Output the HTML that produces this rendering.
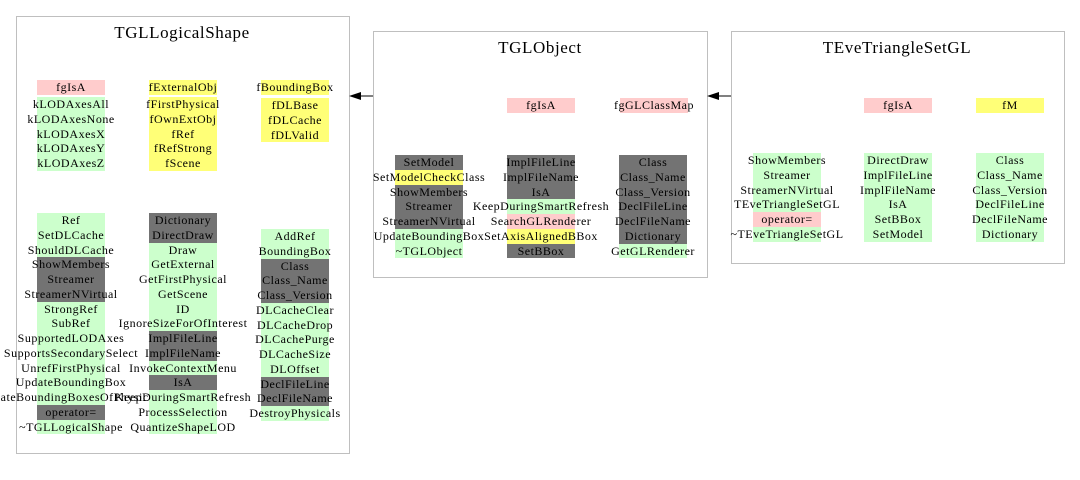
<!DOCTYPE html>
<html><head><meta charset="utf-8"><style>
body{margin:0;width:1080px;height:480px;background:#fff;position:relative;overflow:hidden;font-family:"Liberation Serif",serif;}
.frame{position:absolute;border:1px solid #bfbfbf;background:#fff;}
.title{position:absolute;font-size:17px;letter-spacing:0.6px;white-space:nowrap;transform:translateX(-50%);}
.col{position:absolute;width:68px;}
.r{height:14.75px;line-height:14.75px;font-size:12px;letter-spacing:0.5px;display:flex;justify-content:center;white-space:nowrap;color:#000;}
.g{background:#ccffcc}.d{background:#737373}.p{background:#ffcccc}.y{background:#ffff77}.w{background:transparent}
svg{position:absolute;left:0;top:0}
</style></head><body>
<div class="frame" style="left:16px;top:16px;width:332px;height:436px"></div>
<div class="frame" style="left:373px;top:31px;width:333px;height:245px"></div>
<div class="frame" style="left:731px;top:31px;width:332px;height:231px"></div>
<svg width="1080" height="480">
<line x1="373" y1="96" x2="360" y2="96" stroke="#000"/>
<polygon points="349,96 361,92 361,100" fill="#000"/>
<line x1="731" y1="96" x2="718" y2="96" stroke="#000"/>
<polygon points="707,96 719,92 719,100" fill="#000"/>
</svg>
<div class="title" style="left:182px;top:23px">TGLLogicalShape</div>
<div class="title" style="left:540px;top:38px">TGLObject</div>
<div class="title" style="left:897px;top:38px">TEveTriangleSetGL</div>

<div class="col" style="left:37px;top:80px"><div class="r p">fgIsA</div></div>
<div class="col" style="left:37px;top:97px"><div class="r g">kLODAxesAll</div><div class="r g">kLODAxesNone</div><div class="r g">kLODAxesX</div><div class="r g">kLODAxesY</div><div class="r g">kLODAxesZ</div></div>
<div class="col" style="left:149px;top:80px"><div class="r y">fExternalObj</div></div>
<div class="col" style="left:149px;top:97px"><div class="r y">fFirstPhysical</div><div class="r y">fOwnExtObj</div><div class="r y">fRef</div><div class="r y">fRefStrong</div><div class="r y">fScene</div></div>
<div class="col" style="left:261px;top:80px"><div class="r y">fBoundingBox</div></div>
<div class="col" style="left:261px;top:98px"><div class="r y">fDLBase</div><div class="r y">fDLCache</div><div class="r y">fDLValid</div></div>

<div class="col" style="left:37px;top:213px">
<div class="r g">Ref</div><div class="r g">SetDLCache</div><div class="r g">ShouldDLCache</div><div class="r d">ShowMembers</div><div class="r d">Streamer</div><div class="r d">StreamerNVirtual</div><div class="r g">StrongRef</div><div class="r g">SubRef</div><div class="r g">SupportedLODAxes</div><div class="r g">SupportsSecondarySelect</div><div class="r g">UnrefFirstPhysical</div><div class="r g">UpdateBoundingBox</div><div class="r g">UpdateBoundingBoxesOfPhysicals</div><div class="r d">operator=</div><div class="r g">~TGLLogicalShape</div></div>
<div class="col" style="left:149px;top:213px">
<div class="r d">Dictionary</div><div class="r d">DirectDraw</div><div class="r g">Draw</div><div class="r g">GetExternal</div><div class="r g">GetFirstPhysical</div><div class="r g">GetScene</div><div class="r g">ID</div><div class="r g">IgnoreSizeForOfInterest</div><div class="r d">ImplFileLine</div><div class="r d">ImplFileName</div><div class="r g">InvokeContextMenu</div><div class="r d">IsA</div><div class="r g">KeepDuringSmartRefresh</div><div class="r g">ProcessSelection</div><div class="r g">QuantizeShapeLOD</div></div>
<div class="col" style="left:261px;top:229px">
<div class="r g">AddRef</div><div class="r g">BoundingBox</div><div class="r d">Class</div><div class="r d">Class_Name</div><div class="r d">Class_Version</div><div class="r g">DLCacheClear</div><div class="r g">DLCacheDrop</div><div class="r g">DLCachePurge</div><div class="r g">DLCacheSize</div><div class="r g">DLOffset</div><div class="r d">DeclFileLine</div><div class="r d">DeclFileName</div><div class="r g">DestroyPhysicals</div></div>

<div class="col" style="left:507px;top:98px"><div class="r p">fgIsA</div></div>
<div class="col" style="left:620px;top:98px"><div class="r p">fgGLClassMap</div></div>
<div class="col" style="left:395px;top:155px">
<div class="r d">SetModel</div><div class="r y">SetModelCheckClass</div><div class="r d">ShowMembers</div><div class="r d">Streamer</div><div class="r d">StreamerNVirtual</div><div class="r g">UpdateBoundingBox</div><div class="r g">~TGLObject</div></div>
<div class="col" style="left:507px;top:155px">
<div class="r d">ImplFileLine</div><div class="r d">ImplFileName</div><div class="r d">IsA</div><div class="r g">KeepDuringSmartRefresh</div><div class="r p">SearchGLRenderer</div><div class="r y">SetAxisAlignedBBox</div><div class="r d">SetBBox</div></div>
<div class="col" style="left:619px;top:155px">
<div class="r d">Class</div><div class="r d">Class_Name</div><div class="r d">Class_Version</div><div class="r d">DeclFileLine</div><div class="r d">DeclFileName</div><div class="r d">Dictionary</div><div class="r g">GetGLRenderer</div></div>

<div class="col" style="left:864px;top:98px"><div class="r p">fgIsA</div></div>
<div class="col" style="left:976px;top:98px"><div class="r y">fM</div></div>
<div class="col" style="left:753px;top:153px">
<div class="r g">ShowMembers</div><div class="r g">Streamer</div><div class="r g">StreamerNVirtual</div><div class="r g">TEveTriangleSetGL</div><div class="r p">operator=</div><div class="r g">~TEveTriangleSetGL</div></div>
<div class="col" style="left:864px;top:153px">
<div class="r g">DirectDraw</div><div class="r g">ImplFileLine</div><div class="r g">ImplFileName</div><div class="r g">IsA</div><div class="r g">SetBBox</div><div class="r g">SetModel</div></div>
<div class="col" style="left:976px;top:153px">
<div class="r g">Class</div><div class="r g">Class_Name</div><div class="r g">Class_Version</div><div class="r g">DeclFileLine</div><div class="r g">DeclFileName</div><div class="r g">Dictionary</div></div>
</body></html>
